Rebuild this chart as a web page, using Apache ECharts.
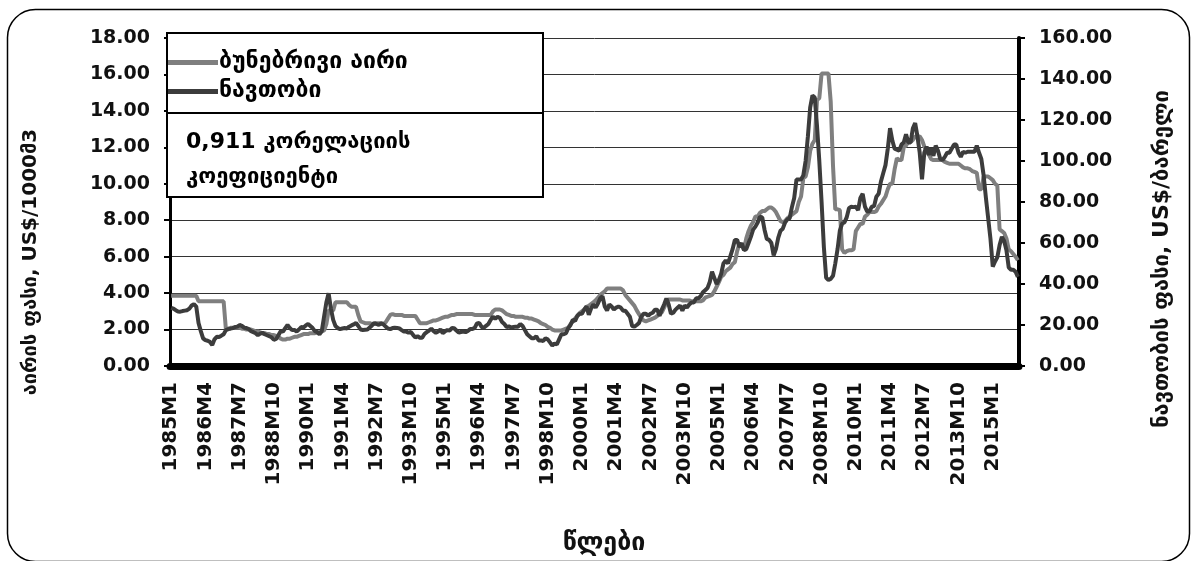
<!DOCTYPE html>
<html>
<head>
<meta charset="utf-8">
<script src="https://cdn.jsdelivr.net/npm/echarts@6/dist/echarts.min.js"></script>
<style>
html,body{margin:0;padding:0;background:#fff;}
#chart{width:1191px;height:561px;}
</style>
</head>
<body>
<div id="chart"></div>
<script>
// ---- data ----
const startYear = 1985;
const endYear = 2015;
const seriesNames = ['ბუნებრივი აირი', 'ნავთობი'];
const leftTicks = [0, 2, 4, 6, 8, 10, 12, 14, 16, 18];
const rightTicks = [0, 20, 40, 60, 80, 100, 120, 140, 160];

// natural gas price, US$/1000m3 (left axis), monthly 1985M1..2015M12
const gasPrice = [
  3.85,3.85,3.85,3.85,3.85,3.85,3.85,3.85,3.85,3.85,3.85,3.85,
  3.55,3.55,3.55,3.55,3.55,3.55,3.55,3.55,3.55,3.55,3.55,3.55,
  2.0,2.05,2.1,2.1,2.1,2.1,2.1,2.05,2.05,2.0,2.0,2.0,
  1.95,1.9,1.9,1.85,1.8,1.8,1.75,1.75,1.7,1.7,1.65,1.6,
  1.5,1.45,1.45,1.5,1.5,1.55,1.6,1.6,1.65,1.7,1.75,1.75,
  1.75,1.8,1.8,1.8,1.85,1.85,1.9,1.95,2.3,3.05,3.05,3.05,
  3.5,3.5,3.5,3.5,3.5,3.5,3.35,3.25,3.25,3.25,2.8,2.45,
  2.4,2.35,2.35,2.35,2.3,2.3,2.35,2.35,2.35,2.3,2.4,2.6,
  2.8,2.85,2.8,2.8,2.8,2.8,2.75,2.75,2.75,2.75,2.75,2.75,
  2.55,2.35,2.35,2.35,2.35,2.4,2.45,2.5,2.5,2.55,2.6,2.65,
  2.7,2.7,2.75,2.8,2.8,2.85,2.85,2.85,2.85,2.85,2.85,2.85,
  2.85,2.8,2.8,2.8,2.8,2.8,2.8,2.8,2.8,3.0,3.1,3.1,
  3.1,3.05,2.95,2.85,2.8,2.75,2.75,2.7,2.7,2.7,2.7,2.65,
  2.65,2.6,2.6,2.55,2.5,2.45,2.35,2.3,2.25,2.15,2.1,2.0,
  1.95,1.95,1.95,1.95,2.0,2.05,2.1,2.3,2.45,2.6,2.75,2.9,
  3.0,3.1,3.25,3.3,3.4,3.5,3.6,3.75,3.9,4.0,4.1,4.25,
  4.25,4.25,4.25,4.25,4.25,4.25,4.15,3.9,3.75,3.6,3.45,3.3,
  3.05,2.85,2.65,2.5,2.45,2.5,2.55,2.6,2.65,2.75,2.85,2.95,
  3.2,3.5,3.65,3.65,3.65,3.65,3.65,3.65,3.6,3.6,3.6,3.6,
  3.55,3.55,3.55,3.55,3.55,3.6,3.75,3.8,3.85,3.9,4.1,4.35,
  4.6,4.9,5.0,5.2,5.3,5.4,5.6,5.7,6.3,6.7,6.6,6.4,
  7.0,7.4,7.7,7.9,8.2,8.2,8.4,8.5,8.5,8.6,8.7,8.7,
  8.6,8.45,8.2,7.95,7.9,7.95,8.1,8.2,8.3,8.4,8.5,9.0,
  9.3,10.3,10.4,10.9,11.8,12.2,12.4,14.6,14.7,16.05,16.05,16.05,
  16.05,14.5,11.0,8.6,8.6,8.55,6.4,6.2,6.3,6.35,6.35,6.4,
  7.4,7.6,7.8,7.8,8.2,8.3,8.45,8.45,8.45,8.5,8.75,8.9,
  9.1,9.3,9.7,10.0,10.0,10.8,11.4,11.3,11.3,12.0,12.1,12.3,
  12.3,12.4,12.6,12.6,12.6,12.4,12.05,11.8,11.6,11.35,11.3,11.3,
  11.3,11.3,11.3,11.2,11.15,11.1,11.1,11.1,11.1,11.1,11.0,10.9,
  10.85,10.85,10.8,10.7,10.65,10.6,9.7,9.7,10.4,10.4,10.4,10.3,
  10.2,10.0,9.9,7.5,7.4,7.3,7.0,6.4,6.3,6.15,6.0,5.8
];

// crude oil price, US$/barrel (right axis), monthly 1985M1..2015M12
const oilPrice = [
  28.4,28.0,27.2,26.6,26.5,26.8,27.0,27.2,28.0,29.5,30.2,29.0,
  21.0,17.0,13.5,12.6,12.3,11.8,10.2,13.0,14.3,14.2,14.8,15.5,
  17.5,18.0,18.2,18.5,19.0,19.2,20.0,19.6,18.7,18.5,18.0,17.0,
  16.5,16.0,15.0,15.8,16.2,15.5,15.0,14.5,14.0,12.8,13.2,15.0,
  17.0,16.8,18.5,20.0,18.5,17.5,17.6,16.8,17.8,19.0,18.8,19.8,
  20.5,19.5,18.5,17.0,16.5,15.5,17.0,24.0,31.0,35.5,28.0,22.5,
  19.5,18.5,18.0,18.3,18.5,18.3,19.2,19.8,20.3,21.0,19.5,17.8,
  17.6,17.7,17.8,18.8,19.8,21.0,20.5,20.0,20.8,20.3,19.2,18.3,
  18.0,18.5,18.7,18.6,18.3,17.5,16.8,16.8,16.3,16.6,15.2,13.9,
  14.5,13.8,13.8,15.6,16.5,17.3,18.2,17.0,16.2,16.8,17.9,16.0,
  16.9,17.5,17.3,18.5,18.4,17.3,16.3,16.6,16.8,16.5,17.1,18.0,
  18.0,18.6,20.8,21.0,19.1,18.6,19.6,20.5,22.5,24.0,23.0,24.0,
  23.5,21.5,20.5,19.0,19.3,18.8,19.0,19.2,19.2,20.5,19.5,17.5,
  15.5,14.5,13.5,13.5,14.5,12.5,12.5,12.2,13.5,13.0,11.5,10.0,
  11.0,10.5,13.0,15.5,15.5,16.0,18.5,20.0,22.5,22.0,24.5,25.5,
  25.5,27.5,29.0,25.0,28.0,30.0,28.5,30.5,33.0,34.0,29.0,27.0,
  30.0,29.0,27.5,28.5,29.0,28.5,27.0,27.0,25.5,24.0,19.5,19.2,
  20.0,21.0,24.0,25.5,25.5,24.5,25.5,26.0,27.5,27.5,24.5,27.5,
  30.0,33.0,30.0,25.5,26.0,27.5,28.5,29.5,27.0,29.5,28.5,30.0,
  31.0,31.0,33.0,33.0,34.0,36.0,37.0,38.0,41.0,46.0,43.0,40.0,
  42.0,45.0,50.0,51.5,50.0,53.5,57.0,61.5,61.5,58.0,60.0,56.5,
  57.0,60.0,63.0,66.5,68.0,70.0,72.8,72.5,66.5,62.0,61.5,60.0,
  54.0,57.0,62.5,66.0,67.0,70.0,71.5,72.0,77.5,82.0,91.0,91.0,
  91.0,93.0,100.0,112.0,126.0,132.0,131.0,117.0,100.0,80.0,58.0,43.0,
  42.0,42.5,44.0,50.0,57.0,66.0,69.5,70.0,72.5,77.0,77.7,77.5,
  77.7,76.0,82.0,84.0,77.7,75.3,75.5,77.7,78.0,82.6,84.0,90.0,
  94.0,98.0,106.0,116.0,110.0,106.0,105.5,105.0,108.0,109.0,113.0,109.0,
  109.0,116.0,118.5,112.0,104.0,91.0,104.0,107.0,103.0,106.0,102.5,107.5,
  105.0,101.0,100.5,102.0,104.0,104.0,106.0,108.0,108.0,104.0,102.0,104.5,
  104.0,104.5,104.5,104.5,104.5,107.5,104.0,101.0,93.0,82.0,72.0,62.0,
  48.5,51.0,53.0,59.0,63.0,61.0,56.5,48.0,47.0,47.0,46.0,43.5
];

const leftAxisTitle = 'აირის ფასი, US$/1000მ3';
const rightAxisTitle = 'ნავთობის ფასი, US$/ბარელი';
const xAxisTitle = 'წლები';
const noteLines = ['0,911 კორელაციის', 'კოეფიციენტი'];

// month categories 1985M1 .. 2015M12
const months = [];
for (let y = startYear; y <= endYear; y++) {
  for (let m = 1; m <= 12; m++) months.push(y + 'M' + m);
}

const numFont = "'DejaVu Sans', sans-serif";
const geoFont = "'DejaVu Sans', sans-serif";

const chart = echarts.init(document.getElementById('chart'), null, {renderer: 'canvas'});

const option = {
  backgroundColor: '#ffffff',
  animation: false,
  grid: {left: 170, right: 172, top: 38, bottom: 195, containLabel: false},
  legend: {
    data: seriesNames,
    orient: 'vertical',
    left: 168,
    top: 51,
    padding: 0,
    itemGap: 6,
    itemWidth: 50,
    itemHeight: 5,
    icon: 'rect',
    z: 100,
    textStyle: {fontFamily: geoFont, fontWeight: 'bold', fontSize: 23, color: '#000', padding: [0, 0, 0, -4]}
  },
  xAxis: {
    type: 'category',
    data: months,
    boundaryGap: true,
    axisLine: {show: true, onZero: false, lineStyle: {color: '#000', width: 7}},
    axisTick: {show: false},
    splitLine: {show: false},
    axisLabel: {
      interval: 14,
      rotate: 90,
      margin: 16,
      fontFamily: numFont,
      fontWeight: 'bold',
      fontSize: 20,
      color: '#111'
    }
  },
  yAxis: [
    {
      type: 'value',
      position: 'left',
      min: leftTicks[0],
      max: leftTicks[leftTicks.length - 1],
      interval: 2,
      axisLine: {show: true, lineStyle: {color: '#000', width: 3}},
      axisTick: {show: true, length: 6, lineStyle: {color: '#000', width: 2}},
      splitLine: {show: true, lineStyle: {color: '#333', width: 1}},
      axisLabel: {
        margin: 20,
        fontFamily: numFont,
        fontWeight: 'bold',
        fontSize: 19,
        color: '#111',
        formatter: v => v.toFixed(2)
      }
    },
    {
      type: 'value',
      position: 'right',
      min: rightTicks[0],
      max: rightTicks[rightTicks.length - 1],
      interval: 20,
      axisLine: {show: true, lineStyle: {color: '#000', width: 4}},
      axisTick: {show: true, length: 6, lineStyle: {color: '#000', width: 2}},
      splitLine: {show: false},
      axisLabel: {
        margin: 20,
        fontFamily: numFont,
        fontWeight: 'bold',
        fontSize: 19,
        color: '#111',
        formatter: v => v.toFixed(2)
      }
    }
  ],
  series: [
    {
      name: seriesNames[0],
      type: 'line',
      yAxisIndex: 0,
      data: gasPrice,
      showSymbol: false,
      symbol: 'none',
      color: '#7f7f7f',
      lineStyle: {color: '#7f7f7f', width: 4},
      z: 3
    },
    {
      name: seriesNames[1],
      type: 'line',
      yAxisIndex: 1,
      data: oilPrice,
      showSymbol: false,
      symbol: 'none',
      color: '#3c3c3c',
      lineStyle: {color: '#3c3c3c', width: 4},
      z: 4
    }
  ],
  graphic: [
    {
      type: 'rect', z: 1, silent: true,
      shape: {x: 7.5, y: 9.5, width: 1182, height: 552, r: 28},
      style: {fill: 'none', stroke: '#000', lineWidth: 1.5}
    },
    {
      type: 'rect', z: 50, silent: true,
      shape: {x: 167, y: 33, width: 376, height: 80},
      style: {fill: '#fff', stroke: '#000', lineWidth: 2}
    },
    {
      type: 'rect', z: 50, silent: true,
      shape: {x: 167, y: 113, width: 376, height: 84},
      style: {fill: '#fff', stroke: '#000', lineWidth: 2}
    },
    {
      type: 'text', z: 51, silent: true, x: 186, y: 142,
      style: {text: noteLines[0], font: 'bold 22px ' + geoFont, fill: '#000', textAlign: 'left', textVerticalAlign: 'middle'}
    },
    {
      type: 'text', z: 51, silent: true, x: 186, y: 177,
      style: {text: noteLines[1], font: 'bold 22px ' + geoFont, fill: '#000', textAlign: 'left', textVerticalAlign: 'middle'}
    },
    {
      type: 'text', z: 51, silent: true, x: 31, y: 262, rotation: Math.PI / 2,
      style: {text: leftAxisTitle, font: 'bold 20px ' + geoFont, fill: '#111', textAlign: 'center', textVerticalAlign: 'middle'}
    },
    {
      type: 'text', z: 51, silent: true, x: 1162, y: 259, rotation: Math.PI / 2,
      style: {text: rightAxisTitle, font: 'bold 22px ' + geoFont, fill: '#111', textAlign: 'center', textVerticalAlign: 'middle'}
    },
    {
      type: 'text', z: 51, silent: true, x: 604, y: 543,
      style: {text: xAxisTitle, font: 'bold 25px ' + geoFont, fill: '#111', textAlign: 'center', textVerticalAlign: 'middle'}
    }
  ]
};

chart.setOption(option);
</script>
</body>
</html>
